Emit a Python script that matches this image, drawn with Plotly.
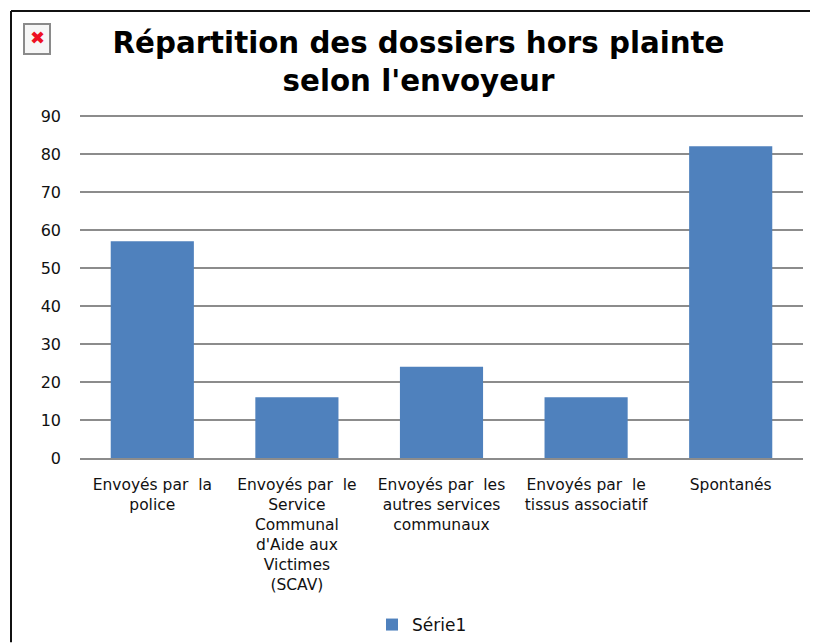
import plotly.graph_objects as go

categories = [
    "Envoyés par  la<br>police",
    "Envoyés par  le<br>Service<br>Communal<br>d'Aide aux<br>Victimes<br>(SCAV)",
    "Envoyés par  les<br>autres services<br>communaux",
    "Envoyés par  le<br>tissus associatif",
    "Spontanés",
]
values = [57, 16, 24, 16, 82]
series_name = "Série1"
title_text = "<b>Répartition des dossiers hors plainte<br>selon l'envoyeur</b>"
y_ticks = list(range(0, 100, 10))

OFF = 8  # page margin of the browser
W, H = 818 - OFF, 643 - OFF
L, R, T, B = 80 - OFF, 15, 114.1 - OFF, 184.5
pw, ph = W - L - R, H - T - B


def px(x):
    return (x - OFF - L) / pw


def py(y):
    return 1 - (y - OFF - T) / ph


BLACK = "#111111"
fig = go.Figure(
    go.Bar(x=categories, y=values, name=series_name, marker=dict(color="#4F81BD", line=dict(width=0)), width=0.575,
           showlegend=True)
)

shapes = [
    dict(type="line", xref="paper", yref="paper", x0=px(11), x1=px(11), y0=py(11), y1=py(643),
         line=dict(color=BLACK, width=2)),
    dict(type="line", xref="paper", yref="paper", x0=px(11), x1=px(818), y0=py(11), y1=py(11),
         line=dict(color=BLACK, width=2)),
    dict(type="rect", xref="paper", yref="paper", x0=px(24), x1=px(50), y0=py(24), y1=py(54),
         line=dict(color="#8a8a8a", width=2), fillcolor="#f6f6f6"),
]

fig.update_layout(
    width=W,
    height=H,
    autosize=False,
    margin=dict(l=L, r=R, t=T, b=B, pad=0),
    paper_bgcolor="white",
    plot_bgcolor="white",
    font=dict(family="DejaVu Sans", color="#111111", size=16),
    title=dict(text=title_text, x=(418.5 - OFF) / W, xanchor="center", y=1 - 44.5 / H, yanchor="middle",
               font=dict(size=29.3, family="DejaVu Sans", color="#000000")),
    xaxis=dict(type="category", showgrid=False, showline=True, linecolor="#8c8c8c", linewidth=2, ticks="",
               tickangle=0, ticklabelstandoff=11, tickfont=dict(size=15.5), range=[-0.5, 4.5]),
    yaxis=dict(range=[0, 90.5], tickvals=y_ticks, showgrid=True, gridcolor="#8c8c8c", gridwidth=2, zeroline=False,
               showline=False, ticks="", ticklabelstandoff=18, tickfont=dict(size=16)),
    legend=dict(orientation="h", x=(372 - OFF) / W, xanchor="left", xref="container", y=1 - (625 - OFF) / H,
                yref="container", yanchor="middle", font=dict(size=17), itemwidth=30),
    shapes=shapes,
    annotations=[
        dict(text="✖", xref="paper", yref="paper", x=px(37), y=py(38), showarrow=False,
             font=dict(size=18, color="#ee1122", family="DejaVu Sans"), xanchor="center", yanchor="middle"),
    ],
)
fig.write_html("out.html")
